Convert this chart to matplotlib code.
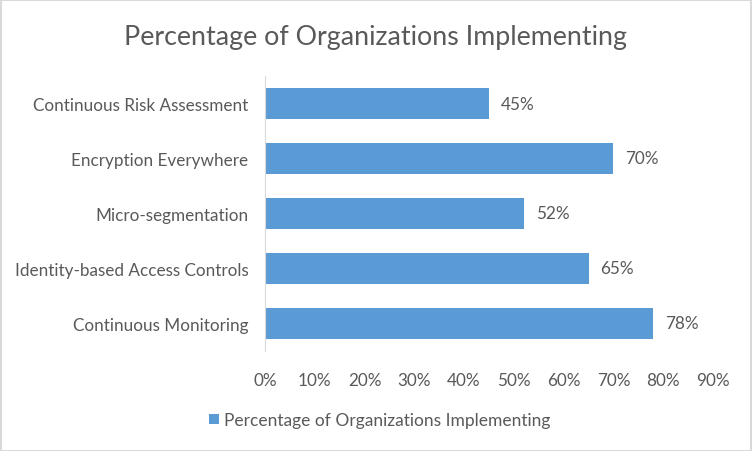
import matplotlib
matplotlib.use("Agg")
import matplotlib.pyplot as plt
from matplotlib.patches import Rectangle
from matplotlib.ticker import FuncFormatter

categories = [
    "Continuous Monitoring",
    "Identity-based Access Controls",
    "Micro-segmentation",
    "Encryption Everywhere",
    "Continuous Risk Assessment",
]
values = [78, 65, 52, 70, 45]
x_ticks = [0, 10, 20, 30, 40, 50, 60, 70, 80, 90]
series_name = "Percentage of Organizations Implementing"

bar_color = "#5B9BD5"
text_color = "#595959"
plt.rcParams["font.family"] = ["Lato", "DejaVu Sans"]

fig = plt.figure(figsize=(7.52, 4.52), dpi=100)
ax = fig.add_axes([265 / 752, 100 / 452, 448 / 752, 275 / 452])

bars = ax.barh(range(len(categories)), values, height=0.58, color=bar_color,
               label=series_name)
for b, v in zip(bars, values):
    ax.text(b.get_width() + 2.4, b.get_y() + b.get_height() / 2, f"{v}%",
            va="center", ha="left", fontsize=12.3, color=text_color)

ax.set_xlim(0, 90)
ax.set_ylim(-0.5, len(categories) - 0.5)
ax.set_yticks(range(len(categories)))
ax.set_yticklabels(categories)
ax.set_xticks(x_ticks)
ax.xaxis.set_major_formatter(FuncFormatter(lambda v, _: f"{int(v)}%"))
ax.tick_params(axis="both", length=0, labelsize=12.3, labelcolor=text_color)
ax.tick_params(axis="y", pad=12)
ax.tick_params(axis="x", pad=15)
for side in ["top", "right", "bottom"]:
    ax.spines[side].set_visible(False)
ax.spines["left"].set_color("#D9D9D9")

fig.text(0.5, 1 - 38 / 452, series_name, ha="center", va="center",
         fontsize=19.3, color=text_color)

fig.legend(handles=[bars], labels=[series_name], loc="center",
           bbox_to_anchor=(380 / 752, 1 - 421 / 452), frameon=False,
           fontsize=12.5, labelcolor=text_color, handlelength=0.55,
           handleheight=0.55, handletextpad=0.3)

fig.patches.append(Rectangle((0.5 / 752, 0.5 / 452), 1 - 1.5 / 752, 1 - 1.5 / 452,
                             transform=fig.transFigure, fill=False,
                             edgecolor="#D9D9D9", linewidth=1.5))

fig.savefig("out.png", dpi=100)
